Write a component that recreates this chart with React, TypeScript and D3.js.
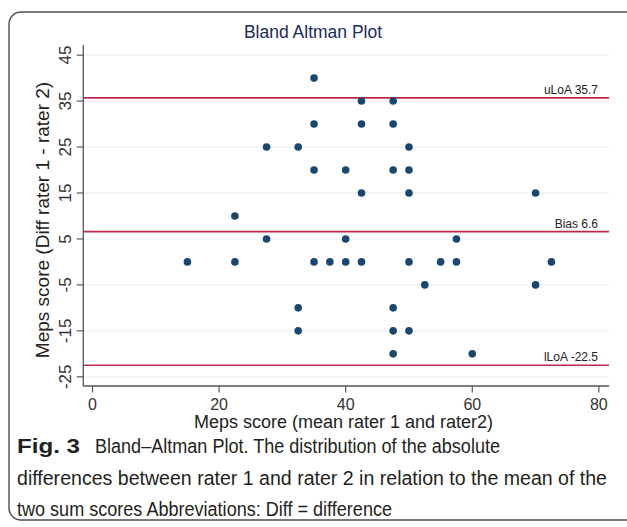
import React from "react";
import * as d3 from "d3";

const meanScores = [
  15, 22.5, 22.5, 27.5, 27.5, 32.5, 32.5, 32.5, 35, 35, 35, 35, 37.5, 40, 40, 40,
  42.5, 42.5, 42.5, 42.5, 47.5, 47.5, 47.5, 47.5, 47.5, 47.5, 50, 50, 50, 50, 50,
  52.5, 55, 57.5, 57.5, 60, 70, 70, 72.5,
];
const diffScores = [
  0, 10, 0, 25, 5, 25, -10, -15, 40, 30, 20, 0, 0, 20, 5, 0,
  35, 30, 15, 0, 35, 30, 20, -10, -15, -20, 25, 20, 15, 0, -15,
  -5, 0, 5, 0, -20, 15, -5, 0,
];
const refValues = [35.7, 6.6, -22.5];
const refLabels = ["uLoA 35.7", "Bias 6.6", "lLoA -22.5"];
const xTicks = [0, 20, 40, 60, 80];
const yTicks = [45, 35, 25, 15, 5, -5, -15, -25];

const title = "Bland Altman Plot";
const xTitle = "Meps score (mean rater 1 and rater2)";
const yTitle = "Meps score (Diff rater 1 - rater 2)";
const figLabel = "Fig. 3";
const captionLines = [
  "Bland–Altman Plot. The distribution of the absolute",
  "differences between rater 1 and rater 2 in relation to the mean of the",
  "two sum scores Abbreviations: Diff = difference",
];

export default function App() {
  const W = 627;
  const H = 527;
  const left = 83.3;
  const right = 609;
  const top = 45;
  const bottom = 386;

  const x = d3.scaleLinear().domain([-1.45, 81.6]).range([left, right]);
  const y = d3.scaleLinear().domain([-27.0, 47.2]).range([bottom, top]);

  const font = "'Liberation Sans', Arial, sans-serif";
  const navy = "#1a476f";
  const red = "#c0284a";

  return (
    <svg
      width={W}
      height={H}
      style={{ position: "absolute", left: 0, top: 0, background: "#fff" }}
    >
      <rect x={0} y={0} width={W} height={H} fill="#fff" />
      {/* frame */}
      <rect
        x={9}
        y={12}
        width={700}
        height={508}
        rx={12}
        fill="none"
        stroke="#4d4d4d"
        strokeWidth={1.4}
      />
      {/* title */}
      <text
        x={313}
        y={38}
        textAnchor="middle"
        fontFamily={font}
        fontSize={17.5}
        fill="#1c2a5e"
      >
        {title}
      </text>

      {/* gridlines */}
      {yTicks.map((t) => (
        <line
          key={"g" + t}
          x1={left}
          x2={right}
          y1={y(t)}
          y2={y(t)}
          stroke="#e6edf1"
          strokeWidth={1}
        />
      ))}

      {/* reference lines */}
      {refValues.map((v, i) => (
        <g key={"r" + i}>
          <line
            x1={left}
            x2={right}
            y1={y(v)}
            y2={y(v)}
            stroke={red}
            strokeWidth={1.6}
          />
          <text
            x={598}
            y={y(v) - 4}
            textAnchor="end"
            fontFamily={font}
            fontSize={12}
            fill="#222"
          >
            {refLabels[i]}
          </text>
        </g>
      ))}

      {/* points */}
      {meanScores.map((m, i) => (
        <circle
          key={"p" + i}
          cx={x(m)}
          cy={y(diffScores[i])}
          r={3.8}
          fill={navy}
        />
      ))}

      {/* y axis */}
      <line x1={left} x2={left} y1={top} y2={bottom} stroke="#555" strokeWidth={1.3} />
      {yTicks.map((t) => (
        <g key={"yt" + t}>
          <line
            x1={left - 6.5}
            x2={left}
            y1={y(t)}
            y2={y(t)}
            stroke="#555"
            strokeWidth={1.2}
          />
          <text
            transform={`translate(${71},${y(t)}) rotate(-90)`}
            textAnchor="middle"
            fontFamily={font}
            fontSize={17}
            fill="#333"
          >
            {t}
          </text>
        </g>
      ))}

      {/* x axis */}
      <line x1={left} x2={right} y1={bottom} y2={bottom} stroke="#555" strokeWidth={1.3} />
      {xTicks.map((t) => (
        <g key={"xt" + t}>
          <line
            x1={x(t)}
            x2={x(t)}
            y1={bottom}
            y2={bottom + 6.5}
            stroke="#555"
            strokeWidth={1.2}
          />
          <text
            x={x(t)}
            y={410}
            textAnchor="middle"
            fontFamily={font}
            fontSize={16}
            fill="#333"
          >
            {t}
          </text>
        </g>
      ))}

      {/* axis titles */}
      <text
        x={343.5}
        y={428}
        textAnchor="middle"
        fontFamily={font}
        fontSize={18}
        fill="#222"
      >
        {xTitle}
      </text>
      <text
        transform={`translate(49,220) rotate(-90)`}
        textAnchor="middle"
        fontFamily={font}
        fontSize={19}
        fill="#222"
      >
        {yTitle}
      </text>

      {/* caption */}
      <text
        x={17}
        y={453}
        fontFamily={font}
        fontSize={20}
        fontWeight="bold"
        fill="#231f20"
        textLength={63}
        lengthAdjust="spacingAndGlyphs"
      >
        {figLabel}
      </text>
      <text
        x={95}
        y={453}
        fontFamily={font}
        fontSize={20}
        fill="#231f20"
        textLength={405}
        lengthAdjust="spacingAndGlyphs"
      >
        {captionLines[0]}
      </text>
      <text
        x={17}
        y={485}
        fontFamily={font}
        fontSize={20}
        fill="#231f20"
        textLength={590}
        lengthAdjust="spacingAndGlyphs"
      >
        {captionLines[1]}
      </text>
      <text
        x={17}
        y={516}
        fontFamily={font}
        fontSize={20}
        fill="#231f20"
        textLength={375}
        lengthAdjust="spacingAndGlyphs"
      >
        {captionLines[2]}
      </text>
    </svg>
  );
}
